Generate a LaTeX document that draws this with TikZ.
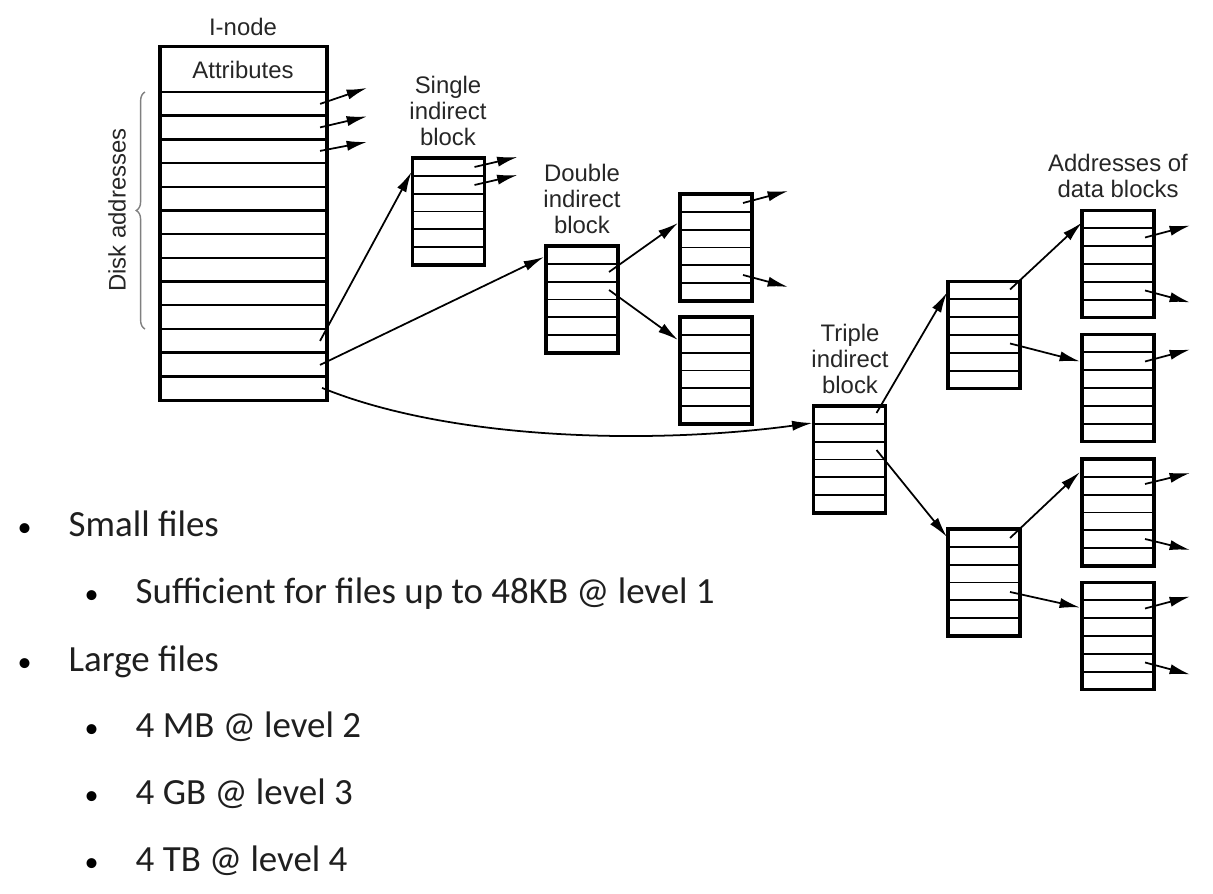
\documentclass[tikz,border=0pt]{standalone}
\usepackage{fontspec}
\setmainfont{Liberation Sans}
\newfontfamily\slidefont{Carlito}
\usetikzlibrary{arrows.meta,calc,decorations.pathreplacing}

\begin{document}
\begin{tikzpicture}[x=0.01cm,y=-0.01cm,
  blk/.style={draw, line width=0.9pt, minimum width=0.72cm, minimum height=1.07cm, inner sep=0pt, outer sep=0pt},
  row/.style={line width=0.5pt},
  arr/.style={-{Latex[length=5.8pt,width=2.9pt]}, line width=0.5pt},
  lbl/.style={font=\fontsize{6.8}{7.4}\selectfont, align=center, text=black!85, inner sep=0pt},
  item/.style={anchor=base west, inner sep=0pt, font=\slidefont\fontsize{10.5}{12}\selectfont, text=black!88},
  dot/.style={anchor=base west, inner sep=0pt, font=\slidefont\fontsize{8}{9}\selectfont}]
  \useasboundingbox (0,0) rectangle (1213,893);

  % i-node with its slots
  \node[blk, minimum width=1.67cm, minimum height=3.53cm] (inode) at (243.5,223.5) {};
  \foreach \k in {0,...,12}
    \draw[line width=0.7pt] (160,{92+\k*23.69}) -- (327,{92+\k*23.69});
  \node[lbl] (inlbl) at (243,27) {I-node};
  \node[lbl] (attr) at (243,70) {Attributes};
  \draw[gray, line width=0.4pt, decorate, decoration={brace, amplitude=2.5pt}] (145,329) -- (145,92);
  \node[lbl, rotate=90] (disk) at (117,210) {Disk addresses};

  % indirect blocks
  \node[blk] (sib) at (448.5,211.5) {};
  \node[blk] (dib) at (582,299.5) {};
  \node[blk] (dib1) at (716,247.5) {};
  \node[blk] (dib2) at (716,370.5) {};
  \node[blk] (tib) at (849.5,459.5) {};
  \node[blk] (tib1) at (984,335) {};
  \node[blk] (tib2) at (984,582.5) {};
  \node[blk] (dat1) at (1118,264) {};
  \node[blk] (dat2) at (1118,388) {};
  \node[blk] (dat3) at (1118,512.5) {};
  \node[blk] (dat4) at (1118,636) {};
  \foreach \b in {sib,dib,dib1,dib2,tib,tib1,tib2,dat1,dat2,dat3,dat4}
    \foreach \i in {1,...,5}
      \draw[row] ($(\b.north west)!\i/6!(\b.south west)$) -- ($(\b.north east)!\i/6!(\b.south east)$);

  \node[lbl] (sibl) at (448,111) {Single\\indirect\\block};
  \node[lbl] (dibl) at (582,199) {Double\\indirect\\block};
  \node[lbl] (tibl) at (850,359) {Triple\\indirect\\block};
  \node[lbl] (datl) at (1118,176) {Addresses of\\data blocks};

  % pointers out of the i-node
  \draw[arr] ([shift={(-7,57)}]inode.north east) -- ++(47,-16);
  \draw[arr] ([shift={(-7,80.5)}]inode.north east) -- ++(47,-11);
  \draw[arr] ([shift={(-7,104)}]inode.north east) -- ++(47,-9);
  \draw[arr] ([shift={(-7,294)}]inode.north east) -- ([shift={(-1,14)}]sib.north west);
  \draw[arr] ([shift={(-7,318)}]inode.north east) -- ([shift={(-2,11)}]dib.north west);
  \draw[arr] ([shift={(-5,341)}]inode.north east) .. controls (450,440) and (650,445) .. ([shift={(-1,17)}]tib.north west);

  % single indirect
  \draw[arr] ([shift={(-10,9)}]sib.north east) -- ++(43,-10);
  \draw[arr] ([shift={(-10,27)}]sib.north east) -- ++(43,-10);

  % double indirect
  \draw[arr] ([shift={(-9,26)}]dib.north east) -- ([shift={(-2,29)}]dib1.north west);
  \draw[arr] ([shift={(-9,44)}]dib.north east) -- ([shift={(-2,23)}]dib2.north west);
  \draw[arr] ([shift={(-9,9)}]dib1.north east) -- ++(45,-12);
  \draw[arr] ([shift={(-9,81)}]dib1.north east) -- ++(45,12);

  % triple indirect
  \draw[arr] ([shift={(-9,7)}]tib.north east) -- ([shift={(-1,11)}]tib1.north west);
  \draw[arr] ([shift={(-9,44)}]tib.north east) -- ([shift={(-1,8)}]tib2.north west);
  \draw[arr] ([shift={(-10,8)}]tib1.north east) -- ([shift={(0,12)}]dat1.north west);
  \draw[arr] ([shift={(-10,62)}]tib1.north east) -- ([shift={(-2,27)}]dat2.north west);
  \draw[arr] ([shift={(-10,9)}]tib2.north east) -- ([shift={(-2,13)}]dat3.north west);
  \draw[arr] ([shift={(-10,63)}]tib2.north east) -- ([shift={(-2,25)}]dat4.north west);

  % data block addresses
  \draw[arr] ([shift={(-9,27)}]dat1.north east) -- ++(45,-12);
  \draw[arr] ([shift={(-9,80)}]dat1.north east) -- ++(45,12);
  \draw[arr] ([shift={(-9,27)}]dat2.north east) -- ++(45,-12);
  \draw[arr] ([shift={(-9,25)}]dat3.north east) -- ++(45,-11);
  \draw[arr] ([shift={(-9,80)}]dat3.north east) -- ++(45,11);
  \draw[arr] ([shift={(-9,26)}]dat4.north east) -- ++(45,-12);
  \draw[arr] ([shift={(-9,80)}]dat4.north east) -- ++(45,12);

  % bullet list
  \node[dot] (bul1) at (17,536) {•};
  \node[item] (it1) at (68,536) {Small files};
  \node[dot] (bul2) at (84,603) {•};
  \node[item] (it2) at (135,603) {Sufficient for files up to 48KB @ level 1};
  \node[dot] (bul3) at (17,671) {•};
  \node[item] (it3) at (68,671) {Large files};
  \node[dot] (bul4) at (84,737) {•};
  \node[item] (it4) at (135,737) {4 MB @ level 2};
  \node[dot] (bul5) at (84,804) {•};
  \node[item] (it5) at (135,804) {4 GB @ level 3};
  \node[dot] (bul6) at (84,871) {•};
  \node[item] (it6) at (135,871) {4 TB @ level 4};
\end{tikzpicture}
\end{document}
